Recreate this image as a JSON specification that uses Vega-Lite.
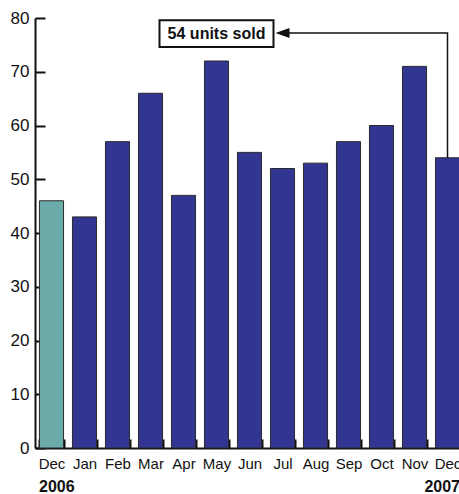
{
  "$schema": "https://vega.github.io/schema/vega-lite/v6.json",
  "autosize": "none",
  "padding": {"left": 35, "top": 18, "right": 0, "bottom": 46},
  "width": 429,
  "height": 430,
  "config": {
    "font": "Liberation Sans, Arial, sans-serif",
    "view": {"stroke": null}
  },
  "datasets": {
    "sales": [
      {"key": "Dec06", "units": 46, "grp": "base"},
      {"key": "Jan", "units": 43, "grp": "year"},
      {"key": "Feb", "units": 57, "grp": "year"},
      {"key": "Mar", "units": 66, "grp": "year"},
      {"key": "Apr", "units": 47, "grp": "year"},
      {"key": "May", "units": 72, "grp": "year"},
      {"key": "Jun", "units": 55, "grp": "year"},
      {"key": "Jul", "units": 52, "grp": "year"},
      {"key": "Aug", "units": 53, "grp": "year"},
      {"key": "Sep", "units": 57, "grp": "year"},
      {"key": "Oct", "units": 60, "grp": "year"},
      {"key": "Nov", "units": 71, "grp": "year"},
      {"key": "Dec07", "units": 54, "grp": "year"}
    ],
    "note": [
      {"bx": "May", "btop": 79.6, "bbot": 74.6, "bmid": 77.1, "txt": "54 units sold"}
    ],
    "arrow": [
      {"lx": "Dec07", "ly": 54, "ord": 1},
      {"lx": "Dec07", "ly": 77.2, "ord": 2},
      {"lx": "Jul", "ly": 77.2, "ord": 3}
    ],
    "years": [
      {"yk": "Dec06", "yr": "2006", "side": "left"},
      {"yk": "Dec07", "yr": "2007", "side": "right"}
    ]
  },
  "encoding": {
    "x": {
      "type": "nominal",
      "scale": {
        "domain": ["Dec06", "Jan", "Feb", "Mar", "Apr", "May", "Jun", "Jul", "Aug", "Sep", "Oct", "Nov", "Dec07"],
        "paddingInner": 0.27,
        "paddingOuter": 0.135
      }
    },
    "y": {
      "type": "quantitative",
      "scale": {"domain": [0, 80], "nice": false}
    }
  },
  "layer": [
    {
      "data": {"name": "sales"},
      "mark": {"type": "bar", "stroke": "#2a2a2a", "strokeWidth": 1},
      "encoding": {
        "x": {
          "field": "key",
          "type": "nominal",
          "axis": {
            "title": null,
            "labelExpr": "slice(datum.label, 0, 3)",
            "labelAngle": 0,
            "labelFontSize": 15,
            "labelColor": "#111",
            "tickBand": "extent",
            "tickSize": -9,
            "tickWidth": 2,
            "tickColor": "#111",
            "domainWidth": 2,
            "domainColor": "#111",
            "labelPadding": 17
          }
        },
        "y": {
          "field": "units",
          "type": "quantitative",
          "axis": {
            "title": null,
            "values": [0, 10, 20, 30, 40, 50, 60, 70, 80],
            "grid": false,
            "tickSize": -10,
            "tickWidth": 2,
            "tickColor": "#111",
            "domainWidth": 2,
            "domainColor": "#111",
            "labelFontSize": 17,
            "labelColor": "#111",
            "labelPadding": 16
          }
        },
        "color": {
          "field": "grp",
          "type": "nominal",
          "scale": {"domain": ["base", "year"], "range": ["#6aaaa9", "#333592"]},
          "legend": null
        }
      }
    },
    {
      "data": {"name": "note"},
      "mark": {"type": "rect", "width": 114, "fill": "white", "stroke": "#111", "strokeWidth": 2},
      "encoding": {
        "x": {"field": "bx", "type": "nominal"},
        "y": {"field": "btop", "type": "quantitative"},
        "y2": {"field": "bbot"}
      }
    },
    {
      "data": {"name": "note"},
      "mark": {"type": "text", "fontSize": 16, "fontWeight": "bold", "align": "center", "baseline": "middle", "color": "#111"},
      "encoding": {
        "x": {"field": "bx", "type": "nominal"},
        "y": {"field": "bmid", "type": "quantitative"},
        "text": {"field": "txt"}
      }
    },
    {
      "data": {"name": "arrow"},
      "mark": {"type": "line", "color": "#111", "strokeWidth": 1.5},
      "encoding": {
        "x": {"field": "lx", "type": "nominal"},
        "y": {"field": "ly", "type": "quantitative"},
        "order": {"field": "ord", "type": "quantitative"}
      }
    },
    {
      "data": {"name": "arrow"},
      "transform": [{"filter": "datum.ord == 3"}],
      "mark": {"type": "point", "shape": "M-1,0L1,-0.72L1,0.72Z", "size": 196, "filled": true, "fill": "#111", "strokeWidth": 0, "opacity": 1},
      "encoding": {
        "x": {"field": "lx", "type": "nominal"},
        "y": {"field": "ly", "type": "quantitative"}
      }
    },
    {
      "data": {"name": "years"},
      "transform": [{"filter": "datum.side == 'left'"}],
      "mark": {"type": "text", "fontSize": 16, "fontWeight": "bold", "align": "left", "baseline": "alphabetic", "dx": -12.5, "dy": 44, "color": "#111"},
      "encoding": {
        "x": {"field": "yk", "type": "nominal"},
        "y": {"datum": 0, "type": "quantitative"},
        "text": {"field": "yr"}
      }
    },
    {
      "data": {"name": "years"},
      "transform": [{"filter": "datum.side == 'right'"}],
      "mark": {"type": "text", "fontSize": 16, "fontWeight": "bold", "align": "right", "baseline": "alphabetic", "dx": 12.5, "dy": 44, "color": "#111"},
      "encoding": {
        "x": {"field": "yk", "type": "nominal"},
        "y": {"datum": 0, "type": "quantitative"},
        "text": {"field": "yr"}
      }
    }
  ]
}
